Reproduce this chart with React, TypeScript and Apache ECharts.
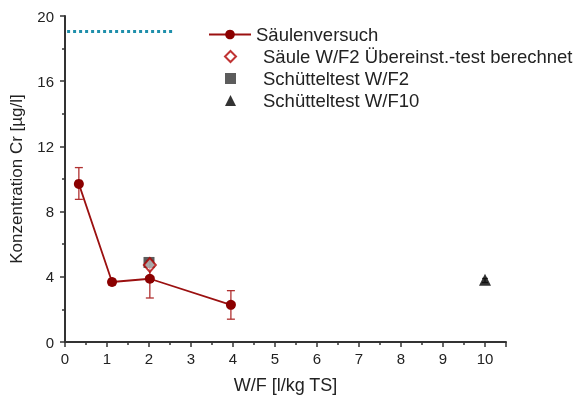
import React, { useEffect, useRef } from "react";
import * as echarts from "echarts";

const saeuleX = [0.33, 1.12, 2.02, 3.95];
const saeuleY = [9.7, 3.68, 3.88, 2.28];
const saeuleLow = [8.75, 3.5, 2.7, 1.4];
const saeuleHigh = [10.7, 3.85, 5.0, 3.15];
const uebereinst = [[2.02, 4.72]];
const schuett2 = [[2.0, 4.88]];
const schuett10 = [[10.0, 3.82]];
const schuett10Low = [3.65];
const schuett10High = [3.9];
const limitLine = [[0.05, 19.05], [2.6, 19.05]];

const names = [
  "Säulenversuch",
  "Säule W/F2 Übereinst.-test berechnet",
  "Schütteltest W/F2",
  "Schütteltest W/F10",
];

export default function App() {
  const ref = useRef<HTMLDivElement>(null);
  useEffect(() => {
    if (!ref.current) return;
    const chart = echarts.init(ref.current, undefined, { renderer: "svg" });
    const font = "Liberation Sans, Arial, sans-serif";
    const errData = saeuleX.map((x, i) => [x, saeuleLow[i], saeuleHigh[i]]);
    const err10 = [[schuett10[0][0], schuett10Low[0], schuett10High[0]]];
    const errRender = (color: string, cap: number) => (params: any, api: any) => {
      const x = api.value(0);
      const lo = api.coord([x, api.value(1)]);
      const hi = api.coord([x, api.value(2)]);
      const style = { stroke: color, lineWidth: 1.3 };
      return {
        type: "group",
        children: [
          { type: "line", shape: { x1: lo[0], y1: lo[1], x2: hi[0], y2: hi[1] }, style },
          { type: "line", shape: { x1: lo[0] - cap, y1: lo[1], x2: lo[0] + cap, y2: lo[1] }, style },
          { type: "line", shape: { x1: hi[0] - cap, y1: hi[1], x2: hi[0] + cap, y2: hi[1] }, style },
        ],
      };
    };
    const legendText = { fontSize: 18.5, color: "#222", fontFamily: font };
    chart.setOption({
      animation: false,
      textStyle: { fontFamily: font },
      grid: { left: 65, top: 16, right: 70, bottom: 59 },
      legend: [
        {
          orient: "vertical",
          left: 203,
          top: 20,
          itemWidth: 42,
          itemHeight: 12,
          data: [names[0]],
          textStyle: legendText,
        },
        {
          orient: "vertical",
          left: 219,
          top: 42,
          itemWidth: 11,
          itemHeight: 11,
          itemGap: 3,
          data: [
            { name: names[1], icon: "diamond" },
            { name: names[2], icon: "rect" },
            { name: names[3], icon: "triangle" },
          ],
          textStyle: { ...legendText, padding: [0, 0, 0, 22] },
        },
      ],
      xAxis: {
        type: "value",
        min: 0,
        max: 10.5,
        interval: 1,
        name: "W/F [l/kg TS]",
        nameLocation: "middle",
        nameGap: 34,
        nameTextStyle: { fontSize: 18, color: "#222" },
        axisLine: { show: true, lineStyle: { color: "#333", width: 2 } },
        axisTick: { show: true, length: 5, lineStyle: { color: "#333", width: 1.5 } },
        minorTick: { show: true, splitNumber: 2, length: 3, lineStyle: { color: "#333", width: 1.5 } },
        axisLabel: { fontSize: 15, color: "#222", showMaxLabel: false, margin: 9 },
        splitLine: { show: false },
      },
      yAxis: {
        type: "value",
        min: 0,
        max: 20,
        interval: 4,
        name: "Konzentration Cr [µg/l]",
        nameLocation: "middle",
        nameGap: 40,
        nameTextStyle: { fontSize: 17, color: "#222" },
        axisLine: { show: true, lineStyle: { color: "#333", width: 2 } },
        axisTick: { show: true, length: 5, lineStyle: { color: "#333", width: 1.5 } },
        minorTick: { show: true, splitNumber: 2, length: 3, lineStyle: { color: "#333", width: 1.5 } },
        axisLabel: { fontSize: 15, color: "#222", margin: 11 },
        splitLine: { show: false },
      },
      series: [
        {
          type: "line",
          name: "limit",
          data: limitLine,
          symbol: "none",
          lineStyle: { color: "#1f8fab", width: 3, type: [3, 3] },
          silent: true,
        },
        {
          type: "custom",
          name: "errS",
          data: errData,
          renderItem: errRender("#b03030", 4),
          z: 1,
          silent: true,
        },
        {
          type: "custom",
          name: "err10",
          data: err10,
          renderItem: errRender("#555", 3),
          z: 1,
          silent: true,
        },
        {
          type: "line",
          name: names[0],
          data: saeuleX.map((x, i) => [x, saeuleY[i]]),
          symbol: "circle",
          symbolSize: 10,
          itemStyle: { color: "#8b0000" },
          lineStyle: { color: "#9b1010", width: 1.8 },
          z: 3,
        },
        {
          type: "scatter",
          name: names[2],
          data: schuett2,
          symbol: "rect",
          symbolSize: 11,
          itemStyle: { color: "#4a4a4a", opacity: 0.9 },
          z: 4,
        },
        {
          type: "scatter",
          name: names[1],
          data: uebereinst,
          symbol: "diamond",
          symbolSize: [12, 14],
          itemStyle: { color: "rgba(255,255,255,0.6)", borderColor: "#b00000", borderWidth: 2 },
          z: 5,
        },
        {
          type: "scatter",
          name: names[3],
          data: schuett10,
          symbol: "triangle",
          symbolSize: 12,
          itemStyle: { color: "#000" },
          z: 4,
        },
      ],
    });
    return () => chart.dispose();
  }, []);
  return (
    <div
      ref={ref}
      style={{ position: "fixed", left: 0, top: 0, width: 576, height: 401 }}
    />
  );
}
